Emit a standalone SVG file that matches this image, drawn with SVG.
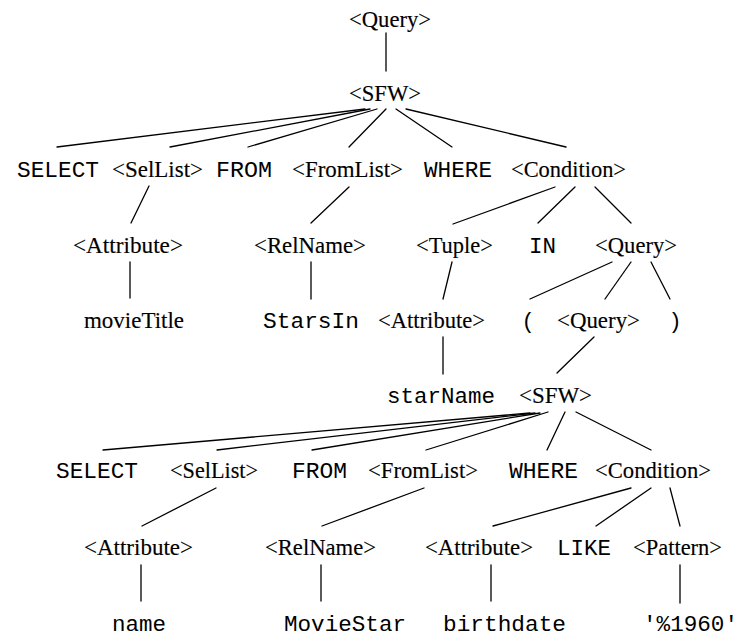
<svg xmlns="http://www.w3.org/2000/svg" width="748" height="642" viewBox="0 0 748 642">
<style>
.s{font-family:"Liberation Serif","Times New Roman",serif;font-size:23.5px;fill:#000;stroke:#000;stroke-width:0.15}
.m{font-family:"Liberation Mono","Courier New",monospace;font-size:22px;fill:#000}
.e line{stroke:#000;stroke-width:1.3;stroke-linecap:round}
</style>
<rect width="748" height="642" fill="#fff"/>
<g class="e" id="connectors">
<line x1="386" y1="33" x2="386" y2="71"/>
<line x1="365" y1="109" x2="57" y2="147"/>
<line x1="370" y1="109" x2="170" y2="147"/>
<line x1="377" y1="109" x2="248" y2="147"/>
<line x1="386" y1="109" x2="349" y2="147"/>
<line x1="396" y1="109" x2="452" y2="147"/>
<line x1="406" y1="109" x2="566" y2="147"/>
<line x1="149" y1="186" x2="131" y2="223"/>
<line x1="130" y1="262" x2="130" y2="298"/>
<line x1="349" y1="187" x2="311" y2="223"/>
<line x1="311" y1="262" x2="311" y2="299"/>
<line x1="555" y1="187" x2="453" y2="224"/>
<line x1="575" y1="187" x2="538" y2="223"/>
<line x1="595" y1="187" x2="631" y2="223"/>
<line x1="452" y1="262" x2="443" y2="299"/>
<line x1="443" y1="337" x2="443" y2="374"/>
<line x1="612" y1="262" x2="530" y2="299"/>
<line x1="631" y1="262" x2="605" y2="299"/>
<line x1="651" y1="262" x2="670" y2="299"/>
<line x1="594" y1="337" x2="557" y2="373"/>
<line x1="530" y1="413" x2="103" y2="450"/>
<line x1="535" y1="413" x2="217" y2="450"/>
<line x1="540" y1="413" x2="312" y2="450"/>
<line x1="548" y1="412" x2="426" y2="450"/>
<line x1="565" y1="412" x2="547" y2="450"/>
<line x1="576" y1="412" x2="651" y2="450"/>
<line x1="216" y1="488" x2="142" y2="526"/>
<line x1="141" y1="565" x2="141" y2="601"/>
<line x1="424" y1="488" x2="322" y2="526"/>
<line x1="321" y1="565" x2="321" y2="601"/>
<line x1="631" y1="488" x2="493" y2="526"/>
<line x1="651" y1="488" x2="596" y2="526"/>
<line x1="670" y1="488" x2="680" y2="526"/>
<line x1="491" y1="565" x2="491" y2="601"/>
<line x1="680" y1="565" x2="680" y2="603"/>
</g>
<g id="n-query1"><text class="s" x="349" y="27" textLength="82" lengthAdjust="spacingAndGlyphs">&lt;Query&gt;</text></g>
<g id="n-sfw1"><text class="s" x="349" y="101" textLength="72" lengthAdjust="spacingAndGlyphs">&lt;SFW&gt;</text></g>
<g id="n-select1"><text class="m" x="17" y="177" textLength="82" lengthAdjust="spacingAndGlyphs">SELECT</text></g>
<g id="n-sellist1"><text class="s" x="112" y="177" textLength="91" lengthAdjust="spacingAndGlyphs">&lt;SelList&gt;</text></g>
<g id="n-from1"><text class="m" x="216" y="177" textLength="56" lengthAdjust="spacingAndGlyphs">FROM</text></g>
<g id="n-fromlist1"><text class="s" x="292" y="177" textLength="111" lengthAdjust="spacingAndGlyphs">&lt;FromList&gt;</text></g>
<g id="n-where1"><text class="m" x="424" y="177" textLength="68" lengthAdjust="spacingAndGlyphs">WHERE</text></g>
<g id="n-condition1"><text class="s" x="511" y="177" textLength="115" lengthAdjust="spacingAndGlyphs">&lt;Condition&gt;</text></g>
<g id="n-attribute1"><text class="s" x="73" y="253" textLength="110" lengthAdjust="spacingAndGlyphs">&lt;Attribute&gt;</text></g>
<g id="n-relname1"><text class="s" x="254" y="253" textLength="112" lengthAdjust="spacingAndGlyphs">&lt;RelName&gt;</text></g>
<g id="n-tuple"><text class="s" x="416" y="253" textLength="77" lengthAdjust="spacingAndGlyphs">&lt;Tuple&gt;</text></g>
<g id="n-in"><text class="m" x="529" y="253" textLength="27" lengthAdjust="spacingAndGlyphs">IN</text></g>
<g id="n-query2"><text class="s" x="595" y="253" textLength="82" lengthAdjust="spacingAndGlyphs">&lt;Query&gt;</text></g>
<g id="n-movietitle"><text class="s" x="84" y="328" textLength="100" lengthAdjust="spacingAndGlyphs">movieTitle</text></g>
<g id="n-starsin"><text class="m" x="263" y="328" textLength="96" lengthAdjust="spacingAndGlyphs">StarsIn</text></g>
<g id="n-attribute2"><text class="s" x="378" y="328" textLength="107" lengthAdjust="spacingAndGlyphs">&lt;Attribute&gt;</text></g>
<g id="n-lparen"><text class="m" x="528" y="328" text-anchor="middle">(</text></g>
<g id="n-query3"><text class="s" x="557" y="328" textLength="83" lengthAdjust="spacingAndGlyphs">&lt;Query&gt;</text></g>
<g id="n-rparen"><text class="m" x="675" y="328" text-anchor="middle">)</text></g>
<g id="n-starname"><text class="m" x="387" y="403" textLength="108" lengthAdjust="spacingAndGlyphs">starName</text></g>
<g id="n-sfw2"><text class="s" x="519" y="403" textLength="73" lengthAdjust="spacingAndGlyphs">&lt;SFW&gt;</text></g>
<g id="n-select2"><text class="m" x="56" y="478" textLength="82" lengthAdjust="spacingAndGlyphs">SELECT</text></g>
<g id="n-sellist2"><text class="s" x="170" y="478" textLength="88" lengthAdjust="spacingAndGlyphs">&lt;SelList&gt;</text></g>
<g id="n-from2"><text class="m" x="292" y="478" textLength="55" lengthAdjust="spacingAndGlyphs">FROM</text></g>
<g id="n-fromlist2"><text class="s" x="368" y="478" textLength="110" lengthAdjust="spacingAndGlyphs">&lt;FromList&gt;</text></g>
<g id="n-where2"><text class="m" x="509" y="478" textLength="69" lengthAdjust="spacingAndGlyphs">WHERE</text></g>
<g id="n-condition2"><text class="s" x="595" y="478" textLength="116" lengthAdjust="spacingAndGlyphs">&lt;Condition&gt;</text></g>
<g id="n-attribute3"><text class="s" x="84" y="555" textLength="109" lengthAdjust="spacingAndGlyphs">&lt;Attribute&gt;</text></g>
<g id="n-relname2"><text class="s" x="265" y="555" textLength="111" lengthAdjust="spacingAndGlyphs">&lt;RelName&gt;</text></g>
<g id="n-attribute4"><text class="s" x="425" y="555" textLength="108" lengthAdjust="spacingAndGlyphs">&lt;Attribute&gt;</text></g>
<g id="n-like"><text class="m" x="557" y="555" textLength="54" lengthAdjust="spacingAndGlyphs">LIKE</text></g>
<g id="n-pattern"><text class="s" x="633" y="555" textLength="89" lengthAdjust="spacingAndGlyphs">&lt;Pattern&gt;</text></g>
<g id="n-name"><text class="m" x="112" y="631" textLength="54" lengthAdjust="spacingAndGlyphs">name</text></g>
<g id="n-moviestar"><text class="m" x="284" y="631" textLength="122" lengthAdjust="spacingAndGlyphs">MovieStar</text></g>
<g id="n-birthdate"><text class="m" x="443" y="631" textLength="123" lengthAdjust="spacingAndGlyphs">birthdate</text></g>
<g id="n-literal"><text class="m" x="643" y="631" textLength="95" lengthAdjust="spacingAndGlyphs">'%1960'</text></g>
</svg>
